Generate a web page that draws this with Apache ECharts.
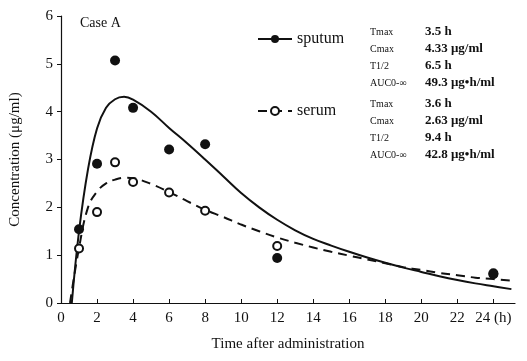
<!DOCTYPE html>
<html>
<head>
<meta charset="utf-8">
<script src="https://cdn.jsdelivr.net/npm/echarts@6/dist/echarts.min.js"></script>
<style>
  html, body { margin: 0; padding: 0; background: #fff; }
  #chart { width: 527px; height: 361px; }
</style>
</head>
<body>
<div id="chart"></div>
<script>
// measured points (time h, concentration ug/ml)
const sputumPoints = [[1, 1.54], [2, 2.91], [3, 5.07], [4, 4.08], [6, 3.21], [8, 3.32], [12, 0.94], [24, 0.62]];
const serumPoints = [[1, 1.14], [2, 1.9], [3, 2.94], [4, 2.53], [6, 2.31], [8, 1.93], [12, 1.19], [24, 0.6]];

// fitted curves
const sputumCurve = [[0.6, 0], [1, 1.5], [1.5, 2.8], [2, 3.65], [2.5, 4.08], [3, 4.26], [3.5, 4.31], [4, 4.25],
  [5, 4.0], [6, 3.66], [7, 3.34], [8, 3.0], [9, 2.65], [10, 2.3], [11, 2.0], [12, 1.74], [13, 1.52], [14, 1.34],
  [15, 1.2], [16, 1.07], [17, 0.95], [18, 0.84], [19, 0.74], [20, 0.65], [21, 0.56], [22, 0.48], [23, 0.41],
  [24, 0.35], [25, 0.29]];
const serumCurve = [[0.5, 0], [1, 1.15], [1.5, 2.0], [2, 2.33], [2.5, 2.5], [3, 2.58], [3.6, 2.62], [4, 2.61],
  [5, 2.49], [6, 2.32], [7, 2.13], [8, 1.95], [9, 1.8], [10, 1.64], [11, 1.5], [12, 1.37], [13, 1.26], [14, 1.16],
  [15, 1.07], [16, 0.99], [17, 0.91], [18, 0.83], [19, 0.75], [20, 0.69], [21, 0.63], [22, 0.58], [23, 0.53],
  [24, 0.5], [25, 0.47]];

const sputumStats = [['Tmax', '3.5 h'], ['Cmax', '4.33 μg/ml'], ['T1/2', '6.5 h'], ['AUC0-∞', '49.3 μg•h/ml']];
const serumStats = [['Tmax', '3.6 h'], ['Cmax', '2.63 μg/ml'], ['T1/2', '9.4 h'], ['AUC0-∞', '42.8 μg•h/ml']];

const serif = '"Liberation Serif", "DejaVu Serif", serif';

const statText = (rows, top) => {
  const out = [];
  rows.forEach((r, i) => {
    out.push({ type: 'text', left: 370, top: top + i * 17,
      style: { text: r[0], font: '10px ' + serif, fill: '#111' } });
    out.push({ type: 'text', left: 425, top: top + i * 17 - 2,
      style: { text: r[1], font: 'bold 13px ' + serif, fill: '#111' } });
  });
  return out;
};

const chart = echarts.init(document.getElementById('chart'));
chart.setOption({
  animation: false,
  backgroundColor: '#fff',
  textStyle: { fontFamily: serif, color: '#111' },
  grid: { left: 61, right: 12, top: 16, bottom: 58 },
  legend: {
    orient: 'vertical',
    left: 252, top: 26,
    itemGap: 56,
    itemWidth: 34, itemHeight: 10,
    data: ['sputum', 'serum'],
    textStyle: { fontFamily: serif, fontSize: 16, color: '#111' }
  },
  xAxis: {
    type: 'value', min: 0, max: 25.2, interval: 2,
    name: 'Time after administration', nameLocation: 'middle', nameGap: 34,
    nameTextStyle: { fontFamily: serif, fontSize: 15, color: '#111' },
    axisLine: { lineStyle: { color: '#111', width: 1.2 } },
    axisTick: { inside: true, length: 4, lineStyle: { color: '#111' } },
    axisLabel: {
      fontFamily: serif, fontSize: 15, color: '#111', margin: 8,
      showMaxLabel: false,
      formatter: v => (v % 2 === 0 ? (v === 24 ? '24 (h)' : String(v)) : '')
    },
    splitLine: { show: false }
  },
  yAxis: {
    type: 'value', min: 0, max: 6, interval: 1,
    name: 'Concentration (μg/ml)', nameLocation: 'middle', nameGap: 38,
    nameTextStyle: { fontFamily: serif, fontSize: 15, color: '#111' },
    axisLine: { show: true, lineStyle: { color: '#111', width: 1.2 } },
    axisTick: { show: true, length: 4, lineStyle: { color: '#111' } },
    axisLabel: { fontFamily: serif, fontSize: 15, color: '#111', margin: 8 },
    splitLine: { show: false }
  },
  graphic: [
    { type: 'text', left: 80, top: 16, style: { text: 'Case A', font: '14px ' + serif, fill: '#111' } }
  ].concat(statText(sputumStats, 27), statText(serumStats, 99)),
  series: [
    {
      name: 'sputum', type: 'line', data: sputumCurve, smooth: 0.4,
      symbol: 'circle', symbolSize: 9, showSymbol: false,
      itemStyle: { color: '#111', opacity: 1 },
      lineStyle: { color: '#111', width: 2 }, z: 2
    },
    {
      name: 'serum', type: 'line', data: serumCurve, smooth: 0.4,
      symbol: 'circle', symbolSize: 8, showSymbol: false,
      itemStyle: { color: '#fff', borderColor: '#111', borderWidth: 2, opacity: 1 },
      lineStyle: { color: '#111', width: 2, type: [9, 6] }, z: 2
    },
    {
      name: 'serum pts', type: 'scatter', data: serumPoints, symbol: 'circle', symbolSize: 8,
      itemStyle: { color: '#fff', borderColor: '#111', borderWidth: 2, opacity: 1 }, z: 3
    },
    {
      name: 'sputum pts', type: 'scatter', data: sputumPoints, symbol: 'circle', symbolSize: 10,
      itemStyle: { color: '#111', opacity: 1 }, z: 4
    }
  ]
});
</script>
</body>
</html>
